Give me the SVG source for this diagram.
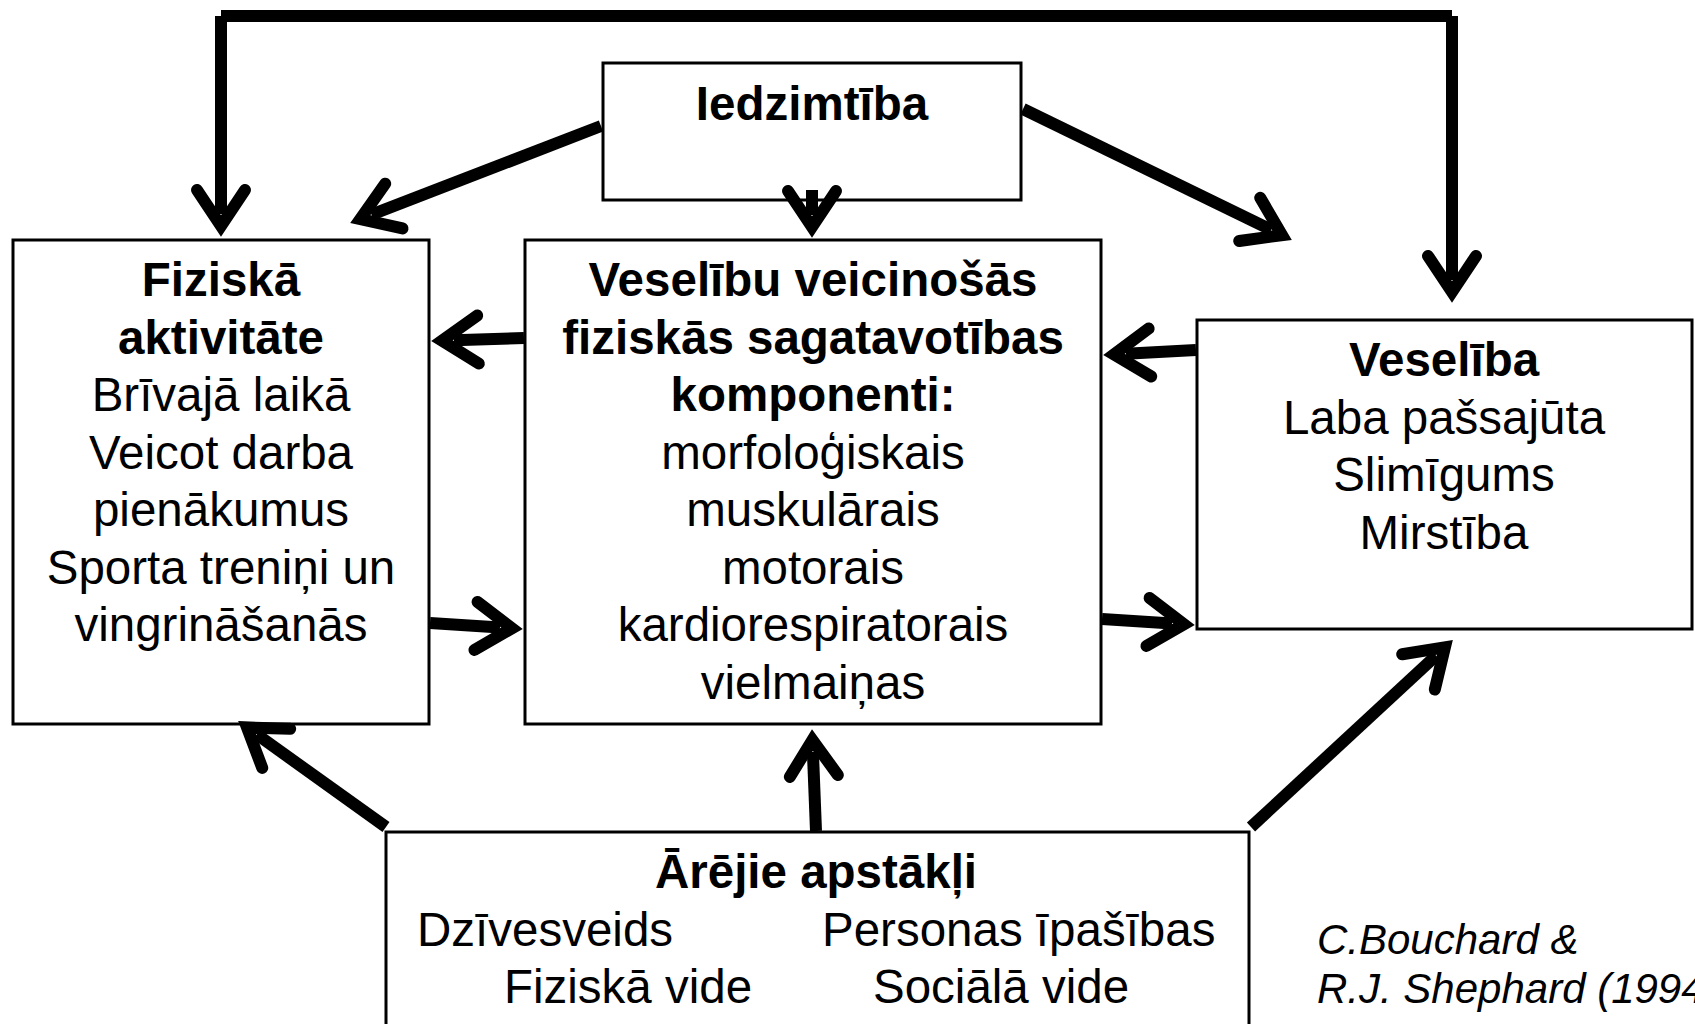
<svg xmlns="http://www.w3.org/2000/svg" width="1695" height="1024" viewBox="0 0 1695 1024">
<style>
.box{fill:#fff;stroke:#000;stroke-width:3}
.t{font-family:"Liberation Sans",Arial,sans-serif;font-size:47.5px;fill:#000;text-anchor:middle}
.b{font-weight:bold}
.s{text-anchor:start}
.cit{font-family:"Liberation Sans",Arial,sans-serif;font-size:42px;font-style:italic;fill:#000}
.c{fill:none;stroke:#000;stroke-width:12;stroke-linecap:butt}
</style>
<defs>
<marker id="ah" markerUnits="userSpaceOnUse" markerWidth="120" markerHeight="120" refX="0" refY="0" orient="auto" overflow="visible">
<path d="M-24,-24 L12,0 L-24,24" fill="none" stroke="#000" stroke-width="12" stroke-linecap="round" stroke-linejoin="miter"/>
</marker>
</defs>
<rect width="1695" height="1024" fill="#fff"/>
<g id="node-iedzimtiba">
<rect class="box" x="603" y="63" width="418" height="137"/>
<text class="t b" x="812" y="120">Iedzimtība</text>
</g>
<g id="node-fiziska-aktivitate">
<rect class="box" x="13" y="240" width="416" height="484"/>
<text class="t b" x="221" y="296">Fiziskā</text>
<text class="t b" x="221" y="353.5">aktivitāte</text>
<text class="t" x="221" y="411">Brīvajā laikā</text>
<text class="t" x="221" y="468.5">Veicot darba</text>
<text class="t" x="221" y="526">pienākumus</text>
<text class="t" x="221" y="583.5">Sporta treniņi un</text>
<text class="t" x="221" y="641">vingrināšanās</text>
</g>
<g id="node-komponenti">
<rect class="box" x="525" y="240" width="576" height="484"/>
<text class="t b" x="813" y="296">Veselību veicinošās</text>
<text class="t b" x="813" y="353.5">fiziskās sagatavotības</text>
<text class="t b" x="813" y="411">komponenti:</text>
<text class="t" x="813" y="468.5">morfoloģiskais</text>
<text class="t" x="813" y="526">muskulārais</text>
<text class="t" x="813" y="583.5">motorais</text>
<text class="t" x="813" y="641">kardiorespiratorais</text>
<text class="t" x="813" y="698.5">vielmaiņas</text>
</g>
<g id="node-veseliba">
<rect class="box" x="1197" y="320" width="495" height="309"/>
<text class="t b" x="1444" y="376">Veselība</text>
<text class="t" x="1444" y="433.5">Laba pašsajūta</text>
<text class="t" x="1444" y="491">Slimīgums</text>
<text class="t" x="1444" y="548.5">Mirstība</text>
</g>
<g id="node-arejie">
<rect class="box" x="386" y="832" width="863" height="220"/>
<text class="t b" x="816" y="888">Ārējie apstākļi</text>
<text class="t s" x="417" y="945.5">Dzīvesveids</text>
<text class="t s" x="822" y="945.5">Personas īpašības</text>
<text class="t s" x="504" y="1003">Fiziskā vide</text>
<text class="t s" x="873" y="1003">Sociālā vide</text>
</g>
<g id="citation">
<text class="cit" x="1317" y="954">C.Bouchard &amp;</text>
<text class="cit" x="1317" y="1003">R.J. Shephard (1994)</text>
</g>
<g id="connectors">
<path class="c" d="M221,16 L1452,16"/>
<path class="c" d="M221,16 L221,214" marker-end="url(#ah)"/>
<path class="c" d="M1452,16 L1452,280" marker-end="url(#ah)"/>
<path class="c" d="M601,126 L371.5,214.7" marker-end="url(#ah)"/>
<path class="c" d="M812,190 L812,215" marker-end="url(#ah)"/>
<path class="c" d="M1023,109 L1271.3,229.9" marker-end="url(#ah)"/>
<path class="c" d="M524,338 L454,340.3" marker-end="url(#ah)"/>
<path class="c" d="M1196,350 L1126,353.8" marker-end="url(#ah)"/>
<path class="c" d="M430,623 L500,627.5" marker-end="url(#ah)"/>
<path class="c" d="M1102,619 L1172,623.5" marker-end="url(#ah)"/>
<path class="c" d="M386,827 L256.7,734.4" marker-end="url(#ah)"/>
<path class="c" d="M816,831 L812.9,752" marker-end="url(#ah)"/>
<path class="c" d="M1251,827 L1436.1,655.6" marker-end="url(#ah)"/>
</g>
</svg>
